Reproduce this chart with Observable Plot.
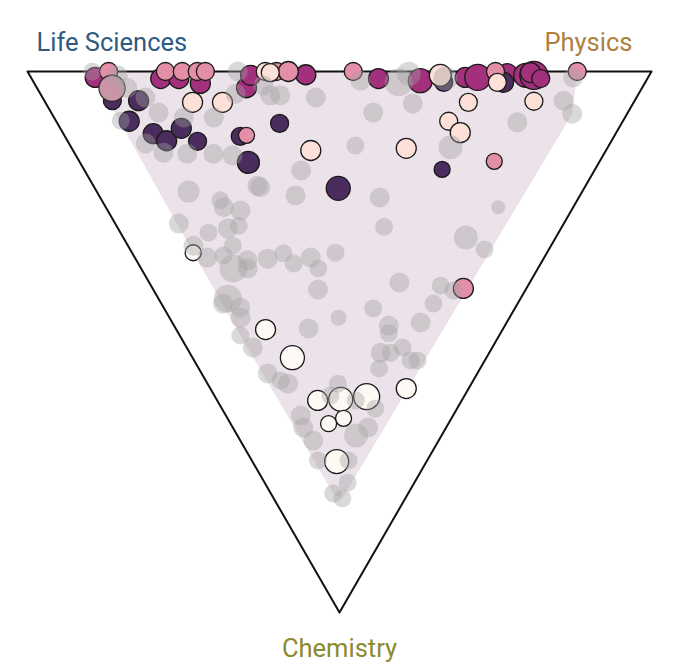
<!DOCTYPE html>
<html><head><meta charset="utf-8">
<script src="https://cdn.jsdelivr.net/npm/d3@7"></script>
<script src="https://cdn.jsdelivr.net/npm/@observablehq/plot@0.6"></script>
<style>body{margin:0;background:#fff;font-family:Roboto,sans-serif}#chart svg{display:block}</style>
</head><body><div id="chart"></div>
<script>
// Ternary composition: [physics %, chemistry %, size]; life sciences % = 100 - physics - chemistry
const vertexLabels = ["Life Sciences", "Physics", "Chemistry"];

const otherPoints = [
  [10.4,0,81],[14.1,0.7,100],[12.0,3.1,169],[16.5,4.8,100],[10.4,9.1,81],[17.2,7.6,100],[12.3,13.3,100],
  [14.3,15.0,100],[18.0,15.2,100],[22.2,15.2,100],[25.1,15.5,100],[20.8,8.5,100],[25.6,8.5,100],[33.7,0,100],
  [31.3,4.1,100],[36.7,4.4,100],[38.3,4.4,100],[43.8,4.8,100],[34.7,18.3,100],[26.6,21.4,100],[31.5,22.9,100],
  [14.7,22.2,121],[19.0,23.8,81],[18.9,25.1,100],[21.3,25.7,100],[51.6,7.6,100],[45.7,13.7,81],[58.5,2.0,196],
  [60.9,0.4,144],[58.8,5.9,100],[60.8,14.0,144],[73.8,9.4,100],[83.2,5.4,100],[83.4,7.8,100],[86.9,1.1,100],
  [44.8,23.3,100],[62.9,25.1,49],[52.5,1.7,100],[14.5,3.0,100],[66.3,1.3,144],[36.5,2.6,100],
  [10.2,28.1,100],[14.1,29.8,81],[17.6,29.0,100],[19.6,28.5,81],[10.5,32.2,100],[11.6,34.4,100],[16.8,32.2,81],
  [14.4,34.0,81],[14.8,36.4,196],[17.8,34.9,100],[17.1,36.4,100],[21.2,34.6,100],[24.2,33.6,81],[24.9,35.5,81],
  [28.2,34.4,100],[28.4,36.4,81],[32.6,33.5,81],[26.4,40.3,100],[11.1,42.0,196],[12.3,43.6,100],[26.3,21.1,100],
  [42.8,28.7,81],[54.9,30.7,144],[56.8,32.9,81],[40.1,39.0,100],[46.4,39.6,81],[48.0,40.5,81],[43.6,42.9,81],
  [33.5,43.8,81],
  [9.9,42.9,100],[11.4,45.5,100],[9.7,48.8,81],[10.6,51.0,100],[21.3,47.5,100],[27.1,45.5,64],[34.4,47.0,100],
  [33.7,48.4,81],[39.8,46.4,100],[30.6,52.0,100],[32.2,52.0,81],[34.6,51.0,81],[28.9,54.9,81],[34.7,53.4,81],
  [35.8,53.4,81],[10.6,55.8,100],[12.9,57.7,100],[12.0,57.1,81],[12.0,63.6,100],[11.3,65.8,100],[11.7,68.2,100],
  [10.6,71.9,81],[20.9,57.7,81],[24.6,62.3,81],[21.7,65.8,100],[19.0,67.3,144],[15.5,71.9,81],[13.3,76.0,81],
  [10.0,78.0,81],[11.0,78.9,81],[18.6,59.9,81],[22.2,60.8,81]
];

const groupAPoints = [
  [10.3,1.1,100],[20.7,1.3,100],[23.6,1.3,100],[26.6,2.2,100],[33.6,3.0,100],[35.4,0.7,100],[44.3,0.6,100],
  [55.6,1.3,100],[62.1,1.7,144],[69.6,1.1,100],[71.6,1.1,169],[76.7,0.4,100],[79.5,0.7,144],[80.8,0.7,196],
  [80.5,0.2,100],[81.6,1.3,81]
];
const groupBPoints = [
  [10.9,5.4,81],[15.1,5.4,100],[11.7,9.2,100],[14.4,11.5,100],[15.9,12.8,100],[19.4,10.5,100],[20.8,12.9,81],
  [28.1,12.0,81],[35.6,9.6,81],[27.0,16.8,121],[39.0,21.6,144],[65.7,2.0,81],[75.3,2.0,100],[57.4,18.1,64]
];
const groupCPoints = [
  [13.0,0,81],[12.0,3.1,169],[22.1,0,81],[24.8,0,81],[27.2,0,81],[28.5,0,81],[39.9,0,81],[41.8,0,100],
  [29.2,11.8,64],[52.2,0,81],[75.0,0,81],[88.1,0,81],[66.5,16.6,64],[49.8,40.1,100]
];
const groupDPoints = [
  [23.6,5.7,100],[28.4,5.7,100],[38.1,0,81],[38.8,0.2,81],[38.1,14.6,100],[65.8,0.7,121],[74.3,2.0,81],
  [78.4,5.5,81],[67.8,5.7,81],[62.9,9.2,81],[63.7,11.3,100],[53.6,14.2,100]
];
const groupEPoints = [
  [9.8,33.5,64],[14.3,47.7,100],[16.0,52.9,144],[16.1,60.8,100],[19.9,60.6,144],[24.3,60.1,169],
  [31.4,58.6,100],[18.6,64.1,64],[15.7,65.1,64],[13.5,72.1,144]
];

const groupNames = ["A", "B", "C", "D", "E"];
const groupSeries = [groupAPoints, groupBPoints, groupCPoints, groupDPoints, groupEPoints];
const groupColors = ["#a3307c", "#4a2d5e", "#e48fa8", "#fde0d8", "#fdfaf5"];

// ternary -> cartesian (Life Sciences left, Physics right, Chemistry bottom)
const toRow = ([p, c, s], group) => ({x: (p + c / 2) / 100, y: c / 100, size: s, group});
const vertices = [[0, 0], [100, 0], [0, 100]].map(([p, c], i) => ({...toRow([p, c, 0]), label: vertexLabels[i]}));

const others = otherPoints.map(d => toRow(d, "other"));
const highlighted = groupSeries.flatMap((arr, i) => arr.map(d => toRow(d, groupNames[i])));
const all = others.concat(highlighted);

const chart = Plot.plot({
  width: 680,
  height: 668,
  marginLeft: 27,
  marginRight: 29,
  marginTop: 71,
  marginBottom: 56,
  x: {domain: [0, 1], axis: null},
  y: {domain: [0, 1], reverse: true, axis: null},
  r: {type: "sqrt", domain: [0, 400], range: [0, 20]},
  color: {type: "ordinal", domain: groupNames, range: groupColors},
  style: {fontFamily: "Roboto, sans-serif", background: "white"},
  marks: [
    Plot.hull(all, {x: "x", y: "y", fill: "#ebe3e9", stroke: "none"}),
    Plot.line([...vertices, vertices[0]], {x: "x", y: "y", stroke: "#111", strokeWidth: 2}),
    ...groupNames.map(g => Plot.dot(highlighted.filter(d => d.group === g), {
      x: "x", y: "y", r: "size", fill: "group", stroke: "#1a1a1a", strokeWidth: 1.3, sort: null
    })),
    Plot.dot(others, {x: "x", y: "y", r: "size", fill: "#a3a1a3", fillOpacity: 0.4, stroke: "none"}),
    Plot.text([vertices[0]], {x: "x", y: "y", text: "label", textAnchor: "start", dx: 9, dy: -29, fontSize: 25.5, fill: "#2e5b82"}),
    Plot.text([vertices[1]], {x: "x", y: "y", text: "label", textAnchor: "end", dx: -19, dy: -29, fontSize: 25.5, fill: "#b07f3e"}),
    Plot.text([vertices[2]], {x: "x", y: "y", text: "label", dy: 36, fontSize: 25.5, fill: "#8c8a2e"})
  ]
});
document.getElementById("chart").appendChild(chart);
</script>
</body></html>
